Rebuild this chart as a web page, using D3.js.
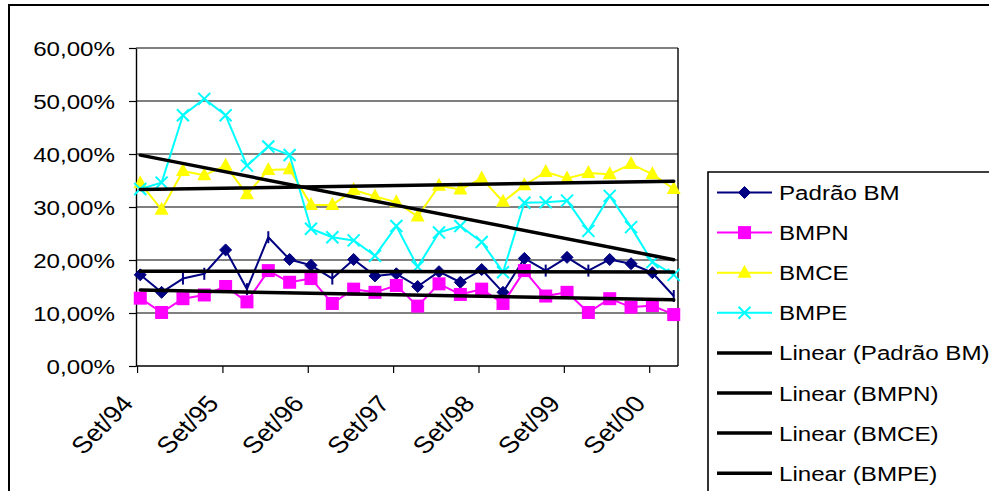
<!DOCTYPE html>
<html>
<head>
<meta charset="utf-8">
<script src="https://cdn.jsdelivr.net/npm/d3@7"></script>
<style>
  html, body { margin: 0; padding: 0; background: #fff; }
  svg { display: block; }
  text { font-family: "Liberation Sans", Arial, sans-serif; fill: #000; }
</style>
</head>
<body>
<svg id="chart" width="989" height="491"></svg>
<script>
// Quarterly periods, Set/94 .. Dez/00
const categories = [
  "Set/94","Dez/94","Mar/95","Jun/95",
  "Set/95","Dez/95","Mar/96","Jun/96",
  "Set/96","Dez/96","Mar/97","Jun/97",
  "Set/97","Dez/97","Mar/98","Jun/98",
  "Set/98","Dez/98","Mar/99","Jun/99",
  "Set/99","Dez/99","Mar/00","Jun/00",
  "Set/00","Dez/00"
];

// Series values (fractions)
const padraoBM = [0.172,0.139,0.165,0.174,0.219,0.145,0.243,0.201,0.190,0.165,0.201,0.170,0.174,0.150,0.178,0.158,0.182,0.139,0.203,0.180,0.205,0.180,0.201,0.193,0.176,0.132];
const bmpn     = [0.128,0.101,0.127,0.134,0.150,0.121,0.180,0.158,0.165,0.118,0.145,0.139,0.152,0.113,0.155,0.135,0.145,0.118,0.180,0.132,0.139,0.101,0.127,0.111,0.114,0.097];
const bmce     = [0.345,0.295,0.368,0.360,0.378,0.324,0.370,0.371,0.304,0.304,0.332,0.320,0.309,0.282,0.340,0.333,0.354,0.310,0.341,0.366,0.354,0.364,0.362,0.381,0.362,0.334];
const bmpe     = [0.334,0.346,0.473,0.504,0.473,0.378,0.414,0.398,0.259,0.243,0.237,0.208,0.264,0.187,0.252,0.264,0.234,0.177,0.308,0.309,0.312,0.255,0.321,0.262,0.196,0.172];

const seriesNames = ["Padrão BM","BMPN","BMCE","BMPE"];
const trendNames  = ["Linear (Padrão BM)","Linear (BMPN)","Linear (BMCE)","Linear (BMPE)"];

// Axis ticks
const yTicks = [0, 0.1, 0.2, 0.3, 0.4, 0.5, 0.6];
const xTickLabels = ["Set/94","Set/95","Set/96","Set/97","Set/98","Set/99","Set/00"];

// ---- drawing ----
const W = 989, H = 491;
const plot = { left: 136, right: 678, top: 48, bottom: 366 };
const SX = 1.15;       // horizontal text stretch
const FONT = 21;

const svg = d3.select("#chart");
svg.append("rect").attr("width", W).attr("height", H).attr("fill", "#fff");

// chart area frame (runs off the right and bottom edges)
svg.append("path")
  .attr("d", `M9,${H + 2} V5 H${W + 2}`)
  .attr("fill", "none").attr("stroke", "#000").attr("stroke-width", 2);

const x = d3.scaleLinear().domain([-0.2, categories.length - 1 + 0.2]).range([plot.left, plot.right]);
const y = d3.scaleLinear().domain([0, 0.6]).range([plot.bottom, plot.top]);

const ptBR = d3.formatLocale({ decimal: ",", thousands: ".", grouping: [3], currency: ["R$", ""] });
const pct = ptBR.format(".2%");

// gridlines
svg.append("g").selectAll("line")
  .data(yTicks.filter(d => d > 0))
  .join("line")
  .attr("x1", plot.left).attr("x2", plot.right)
  .attr("y1", d => y(d)).attr("y2", d => y(d))
  .attr("stroke", "#000").attr("stroke-width", 1.2);

// plot area right edge
svg.append("line")
  .attr("x1", plot.right).attr("x2", plot.right)
  .attr("y1", plot.top).attr("y2", plot.bottom)
  .attr("stroke", "#000").attr("stroke-width", 1.4);

// y axis
const yAxis = svg.append("g")
  .attr("transform", `translate(${plot.left},0)`)
  .call(d3.axisLeft(y).tickValues(yTicks).tickSize(7).tickSizeOuter(0).tickFormat(pct));
yAxis.select(".domain").attr("stroke", "#000").attr("stroke-width", 1.4);
yAxis.selectAll(".tick line").attr("stroke", "#000").attr("stroke-width", 1.2);
yAxis.selectAll(".tick text")
  .attr("x", 0).attr("dy", "0.36em")
  .attr("transform", `translate(-21,0) scale(${SX},1)`)
  .style("font-size", FONT + "px")
  .style("font-family", "'Liberation Sans', Arial, sans-serif");

// x axis: tick marks every four quarters
const xTickPos = xTickLabels.map((d, k) => 4 * k - 0.15);
const xAxis = svg.append("g")
  .attr("transform", `translate(0,${plot.bottom})`)
  .call(d3.axisBottom(x).tickValues(xTickPos).tickSize(7).tickSizeOuter(0)
    .tickFormat((d, i) => xTickLabels[i]));
xAxis.select(".domain")
  .attr("d", `M${plot.left},0H${plot.right}`)
  .attr("stroke", "#000").attr("stroke-width", 1.4);
xAxis.selectAll(".tick line").attr("stroke", "#000").attr("stroke-width", 1.2);
xAxis.selectAll(".tick text")
  .attr("x", 0).attr("y", 0).attr("dy", "0.35em")
  .attr("text-anchor", "end")
  .attr("transform", `translate(-10,33) scale(${SX},1) rotate(-49)`)
  .style("font-size", "23.5px")
  .style("font-family", "'Liberation Sans', Arial, sans-serif");

// marker symbols
function drawMarker(g, kind, cx, cy, color) {
  if (kind === "diamond") {
    g.append("path")
      .attr("d", `M${cx},${cy - 6}L${cx + 6},${cy}L${cx},${cy + 6}L${cx - 6},${cy}Z`)
      .attr("fill", color).attr("stroke", color).attr("stroke-width", 1);
  } else if (kind === "tick") {
    g.append("line")
      .attr("x1", cx).attr("x2", cx).attr("y1", cy - 6).attr("y2", cy + 6)
      .attr("stroke", color).attr("stroke-width", 2);
  } else if (kind === "square") {
    g.append("rect")
      .attr("x", cx - 6.5).attr("y", cy - 6.5).attr("width", 13).attr("height", 13)
      .attr("fill", color);
  } else if (kind === "triangle") {
    g.append("path")
      .attr("d", `M${cx},${cy - 8}L${cx + 7},${cy + 5}L${cx - 7},${cy + 5}Z`)
      .attr("fill", color);
  } else if (kind === "x") {
    g.append("path")
      .attr("d", `M${cx - 6},${cy - 6}L${cx + 6},${cy + 6}M${cx - 6},${cy + 6}L${cx + 6},${cy - 6}`)
      .attr("stroke", color).attr("stroke-width", 2).attr("fill", "none");
  }
}

const series = [
  { name: seriesNames[0], values: padraoBM, color: "#000080", marker: "diamond", thin: new Set([2, 3, 5, 6, 9, 19, 21, 25]) },
  { name: seriesNames[1], values: bmpn,     color: "#FF00FF", marker: "square" },
  { name: seriesNames[2], values: bmce,     color: "#FFFF00", marker: "triangle" },
  { name: seriesNames[3], values: bmpe,     color: "#00FFFF", marker: "x" }
];

const line = d3.line().x((d, i) => x(i)).y(d => y(d));

series.forEach(s => {
  const g = svg.append("g");
  g.append("path").datum(s.values)
    .attr("d", line)
    .attr("fill", "none").attr("stroke", s.color).attr("stroke-width", 2)
    .attr("stroke-linejoin", "round");
  s.values.forEach((v, i) => {
    const kind = (s.thin && s.thin.has(i)) ? "tick" : s.marker;
    drawMarker(g, kind, x(i), y(v), s.color);
  });
});

// least-squares linear trends over the period index
function linearFit(vals) {
  const n = vals.length;
  const xs = d3.range(n);
  const mx = d3.mean(xs), my = d3.mean(vals);
  let sxy = 0, sxx = 0;
  xs.forEach((xi, i) => { sxy += (xi - mx) * (vals[i] - my); sxx += (xi - mx) ** 2; });
  const b = sxy / sxx, a = my - b * mx;
  return [a, a + b * (n - 1)];
}
const trendG = svg.append("g");
series.forEach(s => {
  const [y0, y1] = linearFit(s.values);
  trendG.append("line")
    .attr("x1", x(0)).attr("y1", y(y0))
    .attr("x2", x(s.values.length - 1)).attr("y2", y(y1))
    .attr("stroke", "#000").attr("stroke-width", 3.5).attr("stroke-linecap", "round");
});

// legend
const legend = svg.append("g");
legend.append("path")
  .attr("d", `M708,${H + 2} V172 H${W + 2}`)
  .attr("fill", "none").attr("stroke", "#000").attr("stroke-width", 1.6);

const legendItems = series.map(s => ({ label: s.name, color: s.color, marker: s.marker, width: 2 }))
  .concat(trendNames.map(t => ({ label: t, color: "#000", marker: null, width: 3.5 })));

legendItems.forEach((d, i) => {
  const cy = 192.5 + i * 40.1;
  const g = legend.append("g");
  g.append("line")
    .attr("x1", 717).attr("x2", 772).attr("y1", cy).attr("y2", cy)
    .attr("stroke", d.color).attr("stroke-width", d.width);
  if (d.marker) drawMarker(g, d.marker, 744.5, cy, d.color);
  g.append("text")
    .attr("transform", `translate(779,${cy}) scale(${SX},1)`)
    .attr("dy", "0.36em")
    .style("font-size", FONT + "px")
    .text(d.label);
});
</script>
</body>
</html>
